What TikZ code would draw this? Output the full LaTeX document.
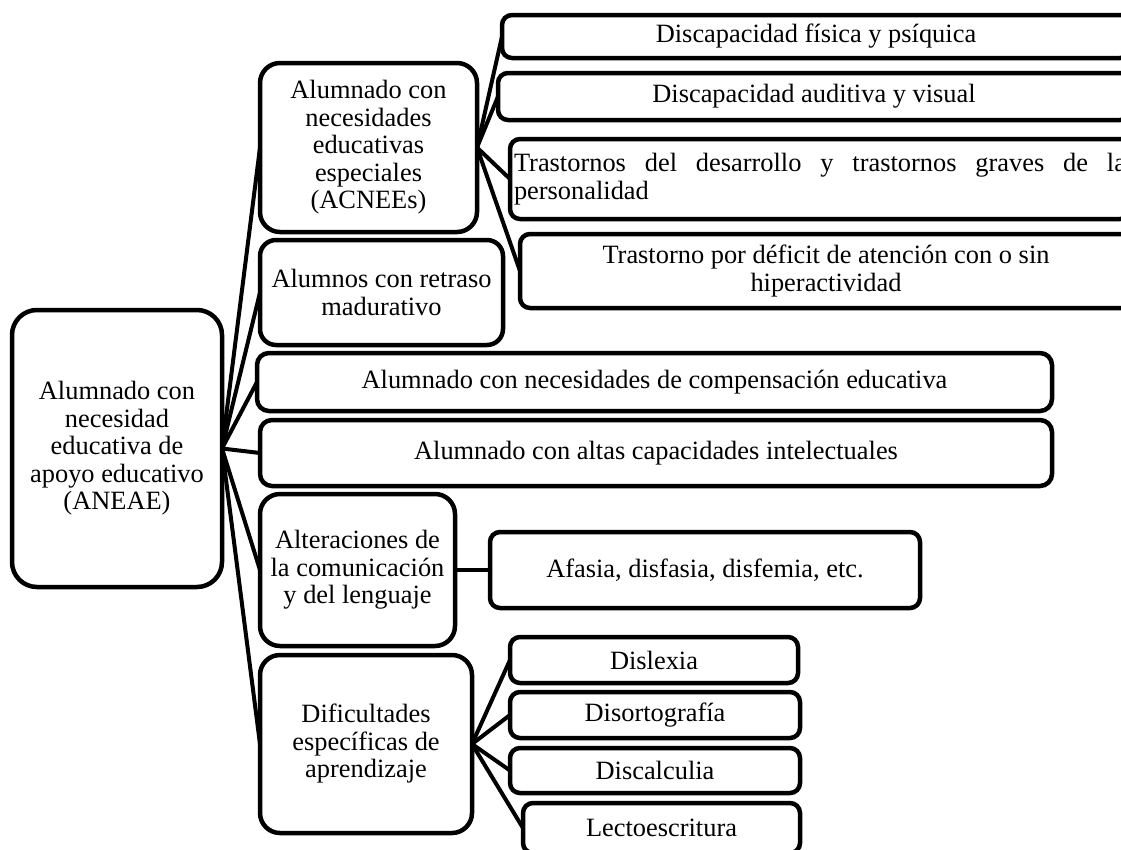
\documentclass[tikz,border=0pt]{standalone}
\usepackage{fontspec}
\setmainfont{Liberation Serif}
\begin{document}
\begin{tikzpicture}[x=1pt,y=-1pt,
  box/.style={draw=black, line width=4.5pt, fill=white, rounded corners=#1,
    anchor=north west, inner sep=2pt, outer sep=0pt, align=center,
    font=\fontsize{26.4}{27.5}\selectfont},
  box/.default=10pt,
  link/.style={draw=black, line width=4pt, line cap=round}]
\useasboundingbox (0,0) rectangle (1121,849);
\fill[white] (0,0) rectangle (1121,849);
\clip (0,0) rectangle (1121,849);

% root
\node[box=25pt, minimum width=210pt, minimum height=277pt] (root) at (12,310)
  {Alumnado con\\necesidad\\educativa de\\apoyo educativo\\(ANEAE)};

% level 2
\node[box=20pt, minimum width=217pt, minimum height=169pt] (acnee) at (260,63)
  {Alumnado con\\necesidades\\educativas\\especiales\\(ACNEEs)};
\node[box=16pt, minimum width=243pt, minimum height=105pt] (retraso) at (260,240)
  {Alumnos con retraso\\madurativo};
\node[box=12pt, minimum width=795pt, minimum height=58pt] (comp) at (257,353)
  {Alumnado con necesidades de compensación educativa};
\node[box=12pt, minimum width=792pt, minimum height=66pt] (altas) at (260,420)
  {Alumnado con altas capacidades intelectuales};
\node[box=20pt, minimum width=195pt, minimum height=152pt] (alter) at (260,494)
  {Alteraciones de\\la comunicación\\y del lenguaje};
\node[box=20pt, minimum width=212pt, minimum height=178pt] (dific) at (260,655)
  {Dificultades\\específicas de\\aprendizaje};

% level 3 (ACNEEs)
\node[box, minimum width=628pt, minimum height=43pt] (fis) at (502,15)
  {Discapacidad física y psíquica};
\node[box, minimum width=632pt, minimum height=47pt] (aud) at (498,73)
  {Discapacidad auditiva y visual};
\node[box, minimum width=620pt, minimum height=80pt, align=left] (tras) at (510,139)
  {\makebox[612pt][s]{Trastornos del desarrollo y trastornos graves de la}\\personalidad};
\node[box, minimum width=612pt, minimum height=74pt] (tdah) at (520,234)
  {Trastorno por déficit de atención con o sin\\hiperactividad};

% level 3 (Alteraciones)
\node[box, minimum width=430pt, minimum height=76pt] (afasia) at (490,532)
  {Afasia, disfasia, disfemia, etc.};

% level 3 (Dificultades)
\node[box, minimum width=288pt, minimum height=46pt] (dislexia) at (510,637) {Dislexia};
\node[box, minimum width=290pt, minimum height=46pt] (disort) at (510,692) {Disortografía};
\node[box, minimum width=290pt, minimum height=45pt] (discal) at (510,748) {Discalculia};
\node[box, minimum width=277pt, minimum height=50pt] (lecto) at (523,803) {Lectoescritura};

% connectors
\foreach \c in {acnee,retraso,comp,altas,alter,dific}
  \draw[link] (root.east) -- (\c.west);
\foreach \c in {fis,aud,tras,tdah}
  \draw[link] (acnee.east) -- (\c.west);
\draw[link] (alter.east) -- (afasia.west);
\foreach \c in {dislexia,disort,discal,lecto}
  \draw[link] (dific.east) -- (\c.west);
\end{tikzpicture}
\end{document}
